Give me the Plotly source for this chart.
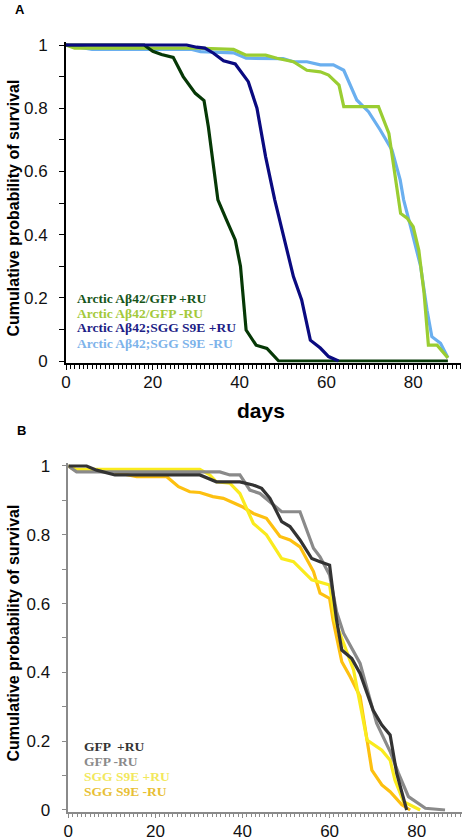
import plotly.graph_objects as go

# ---------------- Panel A data ----------------
a_gfp_pos_days = [0, 18, 20, 22, 24.7, 27, 29.8, 31.8, 32.8, 34, 35, 37, 39, 40.2, 41.5, 43.8, 46.3, 49, 88]
a_gfp_pos_surv = [1, 1, 0.98, 0.97, 0.961, 0.90, 0.847, 0.824, 0.741, 0.615, 0.51, 0.446, 0.383, 0.30, 0.098, 0.05, 0.04, 0.0, 0.0]

a_gfp_neg_days = [0, 2, 30, 38.6, 41.5, 46, 48.6, 52.4, 55.5, 58.6, 60.5, 62.9, 64, 72, 74.4, 76.3, 77.1, 78.6, 80, 81.3, 82.5, 83.5, 85.5, 88]
a_gfp_neg_surv = [1, 0.99, 0.99, 0.986, 0.968, 0.968, 0.958, 0.947, 0.92, 0.915, 0.905, 0.873, 0.805, 0.805, 0.72, 0.54, 0.467, 0.452, 0.425, 0.35, 0.215, 0.05, 0.05, 0.01]

a_sgg_pos_days = [0, 27.8, 30.1, 32, 34, 36.3, 39, 42, 44, 46, 48.1, 50.1, 52.4, 54.3, 56.3, 58.6, 60.5, 62.8]
a_sgg_pos_surv = [1, 1, 0.993, 0.99, 0.974, 0.95, 0.94, 0.884, 0.80, 0.646, 0.51, 0.393, 0.267, 0.193, 0.066, 0.041, 0.014, 0.0]

a_sgg_neg_days = [0, 6, 29, 31, 38.6, 41.5, 50, 52.4, 55.5, 58.6, 61.6, 64, 67, 69.7, 72.4, 75.1, 77, 77.8, 79.4, 81.7, 83.2, 84.3, 86.3, 88]
a_sgg_neg_surv = [1, 0.986, 0.986, 0.979, 0.975, 0.958, 0.957, 0.947, 0.947, 0.937, 0.937, 0.92, 0.826, 0.789, 0.731, 0.668, 0.573, 0.51, 0.425, 0.30, 0.16, 0.077, 0.056, 0.01]

a_labels = ["Arctic Aβ42/GFP +RU", "Arctic Aβ42/GFP -RU", "Arctic Aβ42;SGG S9E +RU", "Arctic Aβ42;SGG S9E -RU"]

# ---------------- Panel B data ----------------
b_gfp_pos_days = [0, 4.2, 6.5, 10.7, 30.2, 34, 39.4, 42.4, 44.4, 46.3, 49, 50.9, 53.2, 55.9, 57.8, 60, 60.8, 61.6, 62.8, 65.1, 67, 70, 72, 73.9, 75.4, 77.3, 77.7]
b_gfp_pos_surv = [1, 1, 0.988, 0.974, 0.974, 0.954, 0.954, 0.945, 0.935, 0.906, 0.838, 0.824, 0.785, 0.731, 0.722, 0.712, 0.63, 0.552, 0.465, 0.44, 0.397, 0.29, 0.247, 0.218, 0.107, 0.024, 0.0]

b_gfp_neg_days = [0, 1.9, 34.8, 37.1, 39.4, 41.7, 44, 45.9, 49, 53.2, 56.3, 57.8, 60, 61.6, 63.2, 67, 70.8, 73.9, 75.8, 78.1, 82, 86.5]
b_gfp_neg_surv = [1, 0.983, 0.983, 0.974, 0.974, 0.93, 0.92, 0.90, 0.867, 0.867, 0.761, 0.736, 0.683, 0.576, 0.514, 0.426, 0.252, 0.17, 0.107, 0.039, 0.005, 0.0]

b_sgg_pos_days = [0, 1.9, 30.2, 32.5, 34, 37.1, 39.4, 41, 42.5, 45.5, 49, 51.7, 54, 55.9, 60, 61.2, 63.2, 65.5, 68.6, 72, 73.9, 75, 77, 80.8]
b_sgg_pos_surv = [1, 0.99, 0.99, 0.974, 0.954, 0.95, 0.92, 0.877, 0.833, 0.80, 0.731, 0.722, 0.693, 0.669, 0.654, 0.552, 0.485, 0.407, 0.203, 0.174, 0.145, 0.087, 0.024, 0.0]

b_sgg_neg_days = [0, 1.9, 9.6, 15.7, 22.6, 25.3, 27.9, 30.2, 33.2, 35.6, 37.9, 40.2, 42.5, 45.5, 48.6, 50.9, 53.2, 56.3, 57.8, 60, 60.8, 62.8, 64.7, 67, 69.7, 72, 73.9, 76.6, 78.5]
b_sgg_neg_surv = [1, 0.985, 0.985, 0.969, 0.969, 0.94, 0.925, 0.923, 0.911, 0.906, 0.893, 0.88, 0.862, 0.848, 0.795, 0.785, 0.765, 0.693, 0.63, 0.615, 0.552, 0.431, 0.388, 0.33, 0.116, 0.073, 0.053, 0.015, 0.0]

b_labels = ["GFP  +RU", "GFP -RU", "SGG S9E +RU", "SGG S9E -RU"]

x_ticks = [0, 20, 40, 60, 80]
y_ticks = [0, 0.2, 0.4, 0.6, 0.8, 1]

# colors
A_LINE = {"gfp_pos": "#063806", "gfp_neg": "#9ACD32", "sgg_pos": "#0A0A80", "sgg_neg": "#6AAFEF"}
A_TEXT = ["#17561A", "#A3C93A", "#1E1E86", "#7DB3EA"]
B_LINE = {"gfp_pos": "#333333", "gfp_neg": "#8A8A8A", "sgg_pos": "#FAEB1E", "sgg_neg": "#FDC010"}
B_TEXT = ["#333333", "#8A8A8A", "#F2E85C", "#E8BF35"]

W, H = 464, 840

fig = go.Figure()

def add_line(x, y, color, xa, ya, width=3.2):
    fig.add_trace(go.Scatter(x=x, y=y, mode="lines", line=dict(color=color, width=width),
                             xaxis=xa, yaxis=ya, showlegend=False, hoverinfo="skip"))

# Panel A traces
add_line(a_sgg_neg_days, a_sgg_neg_surv, A_LINE["sgg_neg"], "x", "y")
add_line(a_gfp_neg_days, a_gfp_neg_surv, A_LINE["gfp_neg"], "x", "y")
add_line(a_gfp_pos_days, a_gfp_pos_surv, A_LINE["gfp_pos"], "x", "y")
add_line(a_sgg_pos_days, a_sgg_pos_surv, A_LINE["sgg_pos"], "x", "y")

# Panel B traces
add_line(b_sgg_neg_days, b_sgg_neg_surv, B_LINE["sgg_neg"], "x2", "y2")
add_line(b_sgg_pos_days, b_sgg_pos_surv, B_LINE["sgg_pos"], "x2", "y2")
add_line(b_gfp_neg_days, b_gfp_neg_surv, B_LINE["gfp_neg"], "x2", "y2")
add_line(b_gfp_pos_days, b_gfp_pos_surv, B_LINE["gfp_pos"], "x2", "y2")

def px(v):
    return v / W

def py(v):
    return 1 - v / H

tick_font = dict(family="Liberation Sans, Arial, sans-serif", size=17, color="#111111")

def xaxis_cfg(domain, rng, color, lw, anchor):
    return dict(domain=domain, range=rng, tickvals=x_ticks, ticks="outside", ticklen=5,
                tickcolor=color, tickwidth=1, showline=True, linecolor=color, linewidth=lw,
                showgrid=False, zeroline=False, tickfont=tick_font, ticklabelstandoff=-2,
                minor=dict(dtick=1, tick0=0, ticks="outside", ticklen=4, tickcolor=color, tickwidth=1),
                fixedrange=True, automargin=False, anchor=anchor)

def yaxis_cfg(domain, anchor, color, lw):
    return dict(domain=domain, range=[-0.005, 1.008], tickvals=y_ticks, ticks="outside", ticklen=5,
                tickcolor=color, tickwidth=1, showline=True, linecolor=color, linewidth=lw,
                showgrid=False, zeroline=False, tickfont=tick_font, anchor=anchor, ticklabelstandoff=8,
                minor=dict(dtick=0.1, tick0=0, ticks="outside", ticklen=5, tickcolor=color, tickwidth=1),
                fixedrange=True, automargin=False)

# Panel A (px): x 0 at 66, 4.34 px/day ; y 0 at 361, 1 at 45
a_x0, a_ppd = 66, 4.34
a_xr = [0, 91]
a_y0, a_y1 = 361, 45
a_ppu = a_y0 - a_y1
a_bot = a_y0 + 0.005 * a_ppu
a_top = a_y1 - 0.008 * a_ppu

# Panel B (px): x 0 at 68.3, 4.355 px/day ; y 0 at 810, 1 at 466
b_x0, b_ppd = 68.3, 4.355
b_xr = [0, 90.5]
b_y0, b_y1 = 810, 466
b_ppu = b_y0 - b_y1
b_bot = b_y0 + 0.005 * b_ppu
b_top = b_y1 - 0.008 * b_ppu

fig.update_layout(
    width=W, height=H,
    margin=dict(l=0, r=0, t=0, b=0, pad=0),
    paper_bgcolor="white", plot_bgcolor="white",
    xaxis=xaxis_cfg([px(a_x0), min(1, px(a_x0 + a_ppd * a_xr[1]))], a_xr, "black", 2, "y"),
    yaxis=yaxis_cfg([py(a_bot), py(a_top)], "x", "black", 2),
    xaxis2=xaxis_cfg([px(b_x0), min(1, px(b_x0 + b_ppd * b_xr[1]))], b_xr, "#8A8A8A", 1.5, "y2"),
    yaxis2=yaxis_cfg([py(b_bot), py(b_top)], "x2", "#8A8A8A", 1.5),
)

ann = []
# panel letters
ann.append(dict(text="<b>A</b>", x=px(13), y=py(10), xref="paper", yref="paper", xanchor="left", yanchor="middle",
                showarrow=False, font=dict(family="Liberation Sans, Arial", size=13, color="black")))
ann.append(dict(text="<b>B</b>", x=px(15), y=py(431), xref="paper", yref="paper", xanchor="left", yanchor="middle",
                showarrow=False, font=dict(family="Liberation Sans, Arial", size=13, color="black")))
# y titles
for yc in [(a_y0 + a_y1) / 2 + 5, (b_y0 + b_y1) / 2 - 5]:
    ann.append(dict(text="<b>Cumulative probability of survival</b>", x=px(12.5), y=py(yc), xref="paper", yref="paper",
                    xanchor="center", yanchor="middle", textangle=-90, showarrow=False,
                    font=dict(family="Liberation Sans, Arial", size=16, color="black")))
# x title panel A
ann.append(dict(text="<b>days</b>", x=px(261), y=py(410), xref="paper", yref="paper", xanchor="center", yanchor="middle",
                showarrow=False, font=dict(family="Liberation Sans, Arial", size=21, color="black")))
# legends
for i, (lab, col) in enumerate(zip(a_labels, A_TEXT)):
    ann.append(dict(text="<b>" + lab + "</b>", x=px(75), y=py(298 + i * 15), xref="paper", yref="paper",
                    xanchor="left", yanchor="middle", showarrow=False,
                    font=dict(family="Liberation Serif, Times New Roman, serif", size=13.5, color=col)))
for i, (lab, col) in enumerate(zip(b_labels, B_TEXT)):
    ann.append(dict(text="<b>" + lab + "</b>", x=px(82), y=py(746 + i * 15), xref="paper", yref="paper",
                    xanchor="left", yanchor="middle", showarrow=False,
                    font=dict(family="Liberation Serif, Times New Roman, serif", size=13.5, color=col)))
fig.update_layout(annotations=ann)

# remove the default page margin so the 464x840 figure fills the window exactly
fig.write_html("out.html",
               config={"displayModeBar": False},
               post_script="document.body.style.margin='0px';document.body.style.overflow='hidden';")
